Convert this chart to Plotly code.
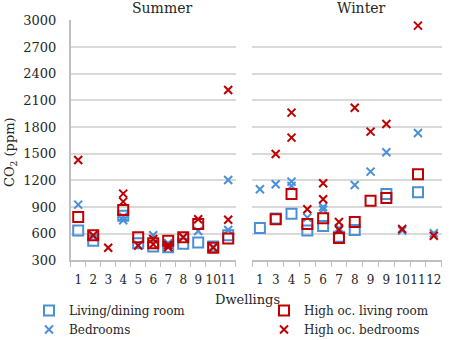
import plotly.graph_objects as go

# Dwelling labels per season (Winter has two different "9" dwellings)
summer_labels = ["1", "2", "3", "4", "5", "6", "7", "8", "9", "10", "11"]
winter_labels = ["1", "3", "4", "5", "6", "7", "8", "9", "9", "10", "11", "12"]

# Summer: category position (1-based) and CO2 (ppm)
summer_living_pos = [1, 2, 4, 5, 6, 7, 8, 9, 10, 11]
summer_living = [634, 521, 800, 491, 454, 446, 487, 499, 454, 581]

summer_bed_pos = [1, 2, 4, 4, 5, 6, 7, 8, 9, 10, 11, 11]
summer_bed = [926, 566, 790, 750, 472, 581, 491, 559, 630, 454, 1204, 641]

summer_hol_pos = [1, 2, 4, 5, 6, 7, 8, 9, 10, 11]
summer_hol = [787, 581, 866, 559, 491, 521, 559, 709, 442, 544]

summer_hob_pos = [1, 2, 3, 4, 4, 5, 6, 6, 7, 7, 8, 9, 10, 11, 11]
summer_hob = [1429, 581, 442, 1050, 960, 465, 540, 480, 446, 472, 559, 761, 442, 2216, 757]

# Winter
winter_living_pos = [1, 2, 3, 4, 5, 6, 7, 9, 11]
winter_living = [664, 770, 825, 634, 686, 566, 641, 1046, 1065]

winter_bed_pos = [1, 2, 3, 3, 4, 5, 5, 6, 7, 8, 9, 10, 11, 12]
winter_bed = [1099, 1155, 1185, 1136, 780, 900, 870, 660, 1147, 1298, 1515, 634, 1732, 604]

winter_hol_pos = [2, 3, 4, 5, 6, 7, 8, 9, 11]
winter_hol = [761, 1046, 709, 772, 550, 731, 971, 1001, 1267]

winter_hob_pos = [2, 3, 3, 4, 5, 5, 6, 6, 7, 8, 9, 10, 11, 12]
winter_hob = [1496, 1961, 1680, 874, 1166, 986, 730, 640, 2017, 1748, 1834, 652, 2940, 577]

y_ticks = [300, 600, 900, 1200, 1500, 1800, 2100, 2400, 2700, 3000]

BLUE = "#4a90d9"
RED = "#c00000"
GRID = "#d9d9d9"
AXIS = "#bfbfbf"
FONT = "DejaVu Serif"
TXT = "#262626"

W, H = 450, 340

square = dict(symbol="square-open", size=10, line=dict(width=2))
cross = dict(symbol="x-thin-open", size=8, line=dict(width=2))

series = [
    ("Living/dining room", BLUE, square, summer_living_pos, summer_living,
     winter_living_pos, winter_living, "legend"),
    ("Bedrooms", BLUE, cross, summer_bed_pos, summer_bed,
     winter_bed_pos, winter_bed, "legend"),
    ("High oc. living room", RED, square, summer_hol_pos, summer_hol,
     winter_hol_pos, winter_hol, "legend2"),
    ("High oc. bedrooms", RED, cross, summer_hob_pos, summer_hob,
     winter_hob_pos, winter_hob, "legend2"),
]

fig = go.Figure()
for name, color, mk, sx, sy, wx, wy, leg in series:
    m = dict(mk, color=color, line=dict(mk["line"], color=color))
    fig.add_trace(go.Scatter(x=sx, y=sy, mode="markers", marker=m, name=name,
                             legend=leg, xaxis="x", yaxis="y", showlegend=True))
    fig.add_trace(go.Scatter(x=wx, y=wy, mode="markers", marker=m, name=name,
                             legend=leg, xaxis="x2", yaxis="y2", showlegend=False))

y_dom = [1 - 260.3 / H, 1 - 20.3 / H]
tickfont = dict(family=FONT, size=13, color=TXT)


def xaxis(dom, labels, anchor):
    n = len(labels)
    return dict(
        domain=dom, range=[0.5, n + 0.5], anchor=anchor,
        tickmode="array", tickvals=list(range(1, n + 1)), ticktext=labels,
        ticks="", tickangle=0, showgrid=False, zeroline=False,
        showline=True, linecolor=AXIS, linewidth=1.5,
        tickfont=dict(family=FONT, size=12, color=TXT), ticklabelstandoff=8,
        minor=dict(tickmode="array", tickvals=[i + 0.5 for i in range(n + 1)],
                   ticks="outside", ticklen=5, tickwidth=1.2, tickcolor=AXIS,
                   showgrid=False),
    )


legend_font = dict(family=FONT, size=12, color=TXT)

fig.update_layout(
    width=W, height=H, margin=dict(l=0, r=0, t=0, b=0, autoexpand=False),
    paper_bgcolor="white", plot_bgcolor="white",
    xaxis=xaxis([70.7 / W, 235.7 / W], summer_labels, "y"),
    xaxis2=xaxis([252 / W, 441.7 / W], winter_labels, "y2"),
    yaxis=dict(domain=y_dom, range=[300, 3000], tickvals=y_ticks, anchor="x",
               showgrid=True, gridcolor=GRID, gridwidth=1.5, zeroline=False,
               showline=True, linecolor=AXIS, linewidth=1.5,
               tickfont=tickfont, ticklabelstandoff=10),
    yaxis2=dict(domain=y_dom, range=[300, 3000], tickvals=y_ticks, anchor="x2",
                matches="y", showticklabels=False, showgrid=True,
                gridcolor=GRID, gridwidth=1.5, zeroline=False, showline=False),
    legend=dict(x=29 / W, y=1 - 296 / H, xanchor="left", yanchor="top",
                font=legend_font, bgcolor="rgba(0,0,0,0)", tracegroupgap=0),
    legend2=dict(x=264 / W, y=1 - 296 / H, xanchor="left", yanchor="top",
                 font=legend_font, bgcolor="rgba(0,0,0,0)", tracegroupgap=0),
    showlegend=True,
)

ann = dict(xref="paper", yref="paper", showarrow=False,
           xanchor="center", yanchor="middle")
fig.add_annotation(text="Summer", x=162 / W, y=1 - 8 / H,
                   font=dict(family=FONT, size=14, color=TXT), **ann)
fig.add_annotation(text="Winter", x=361 / W, y=1 - 8 / H,
                   font=dict(family=FONT, size=14, color=TXT), **ann)
fig.add_annotation(text="Dwellings", x=247 / W, y=1 - 299 / H,
                   font=dict(family=FONT, size=13, color=TXT), **ann)
fig.add_annotation(text="CO<sub>2</sub> (ppm)", x=10 / W, y=1 - 152 / H,
                   textangle=-90, font=dict(family=FONT, size=13, color=TXT), **ann)

fig.write_html("out.html")
